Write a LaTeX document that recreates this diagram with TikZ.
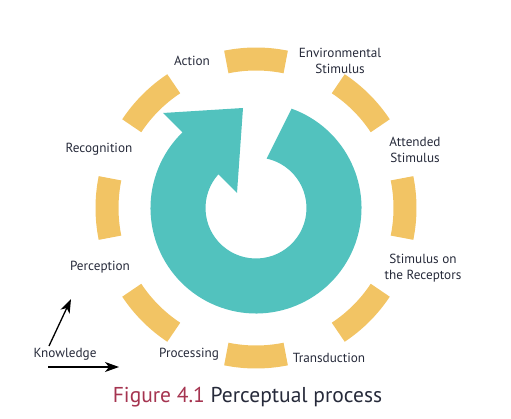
\documentclass[tikz,border=0pt]{standalone}
\usepackage{fontspec}
\setmainfont{PT Sans}
\usetikzlibrary{positioning,arrows.meta}
\definecolor{Ring}{HTML}{52C2BE}
\definecolor{Dash}{HTML}{F2C464}
\definecolor{Ink}{HTML}{262A3A}
\definecolor{FigRed}{HTML}{A53450}

\begin{document}
\begin{tikzpicture}[x=1pt, y=1pt, every node/.style={font=\fontsize{13.2}{16}\selectfont, text=Ink, align=center}]
        \tikzstyle{seg}=[draw=Dash, line width=23pt]
        \tikzstyle{stage}=[inner sep=1pt]
        \tikzstyle{link}=[-{Stealth[length=14pt, width=10pt, inset=4pt]}, line width=1.3pt, black]
        \useasboundingbox (0,0) rectangle (511,418);
        \begin{scope}[shift={(256,210)}]
          \fill[Ring] (70.3:105.5) arc[start angle=70.3, end angle=-225.8, radius=105.5]
            -- (-93,95) -- (-13,100) -- (-19,15) -- (138.2:50.5)
            arc[start angle=-221.8, end angle=77.9, radius=50.5] -- cycle;
          \foreach \a in {0,45,...,315}
            \draw[seg] (\a-11.5:149) arc[start angle=\a-11.5, end angle=\a+11.5, radius=149];
        \end{scope}
        \node[stage] (act) at (192,357) {Action};
        \node[stage] (env) at (340,357) {Environmental\\Stimulus};
        \node[stage] (att) at (415,268) {Attended\\Stimulus};
        \node[stage] (sor) at (423,150) {Stimulus on\\the Receptors};
        \node[stage] (tra) at (329,60) {Transduction};
        \node[stage] (pro) at (189,64) {Processing};
        \node[stage] (per) at (100,151) {Perception};
        \node[stage] (rcg) at (99,269) {Recognition};
        \node[stage] (kno) at (65,64) {Knowledge};
        \coordinate (ku) at (49,72);
        \coordinate (kt) at (71,119);
        \coordinate (ks) at (48,51);
        \coordinate (ke) at (119,51);
        \draw[link] (ku) -- (kt);
        \draw[link] (ks) -- (ke);
        \node (cap) at (247.5,21) {\fontsize{21.5}{24}\selectfont\textcolor{FigRed}{Figure 4.1} Perceptual process};
      \end{tikzpicture}
\end{document}
